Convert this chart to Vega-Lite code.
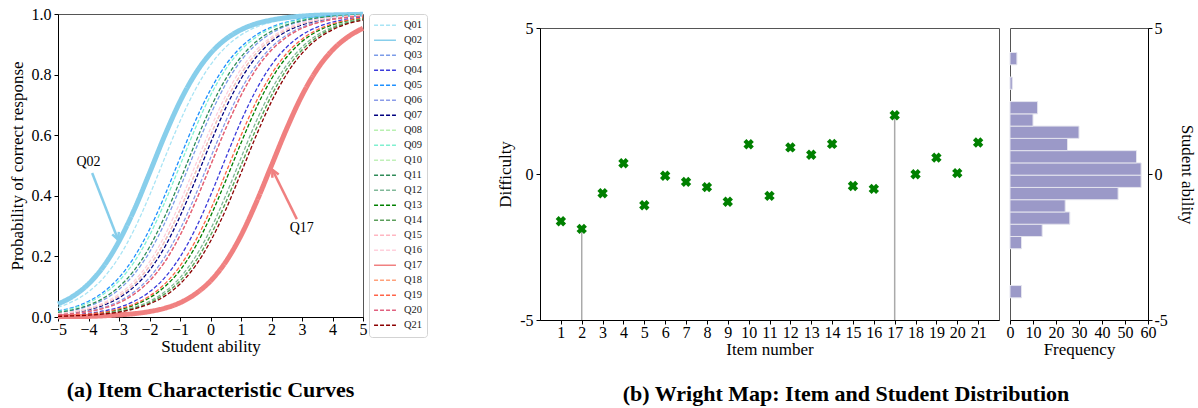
{
"$schema": "https://vega.github.io/schema/vega-lite/v6.json",
"background": "white",
"padding": {"left": 7, "top": 3, "right": 3, "bottom": 2},
"spacing": 68,
"resolve": {"legend": {"color": "independent", "strokeDash": "independent"}},
"config": {
  "font": "Liberation Serif",
  "view": {"stroke": "#555", "strokeWidth": 1},
  "axis": {"labelFont": "Liberation Serif", "titleFont": "Liberation Serif", "labelFontSize": 16, "titleFontSize": 17, "titleFontWeight": "normal", "labelColor": "#000", "titleColor": "#000", "domainColor": "#000", "tickColor": "#000", "domainWidth": 1, "tickWidth": 1, "tickSize": 4, "grid": false, "labelOverlap": false, "labelFlush": false, "labelSeparation": 0},
  "axisX": {"labelPadding": 0, "titlePadding": 1},
  "axisY": {"labelPadding": 3, "titlePadding": 5},
  "legend": {"orient": "right", "offset": -4, "padding": 4, "rowPadding": 0, "clipHeight": 14.4, "symbolType": "stroke", "symbolSize": 480, "symbolStrokeWidth": 1.5, "labelFont": "Liberation Serif", "labelFontSize": 10.5, "labelOffset": 7, "labelColor": "#222", "strokeColor": "#d3d3d3", "fillColor": "white", "cornerRadius": 3},
  "title": {"font": "Liberation Serif", "fontSize": 22, "fontWeight": "bold", "color": "#000"}
},
"datasets": {
  "curves": [
{"q":"Q01","t":-5,"p":0.032},{"q":"Q01","t":-4.5,"p":0.052},{"q":"Q01","t":-4,"p":0.083},{"q":"Q01","t":-3.5,"p":0.13},{"q":"Q01","t":-3,"p":0.198},{"q":"Q01","t":-2.5,"p":0.289},{"q":"Q01","t":-2,"p":0.401},{"q":"Q01","t":-1.5,"p":0.525},{"q":"Q01","t":-1,"p":0.646},{"q":"Q01","t":-0.5,"p":0.75},{"q":"Q01","t":0,"p":0.832},{"q":"Q01","t":0.5,"p":0.891},{"q":"Q01","t":1,"p":0.931},{"q":"Q01","t":1.5,"p":0.957},{"q":"Q01","t":2,"p":0.973},{"q":"Q01","t":2.5,"p":0.984},{"q":"Q01","t":3,"p":0.99},{"q":"Q01","t":3.5,"p":0.994},{"q":"Q01","t":4,"p":0.996},{"q":"Q01","t":4.5,"p":0.998},{"q":"Q01","t":5,"p":0.999},
{"q":"Q02","t":-5,"p":0.043},{"q":"Q02","t":-4.5,"p":0.069},{"q":"Q02","t":-4,"p":0.109},{"q":"Q02","t":-3.5,"p":0.168},{"q":"Q02","t":-3,"p":0.25},{"q":"Q02","t":-2.5,"p":0.354},{"q":"Q02","t":-2,"p":0.475},{"q":"Q02","t":-1.5,"p":0.599},{"q":"Q02","t":-1,"p":0.711},{"q":"Q02","t":-0.5,"p":0.802},{"q":"Q02","t":0,"p":0.87},{"q":"Q02","t":0.5,"p":0.917},{"q":"Q02","t":1,"p":0.948},{"q":"Q02","t":1.5,"p":0.968},{"q":"Q02","t":2,"p":0.98},{"q":"Q02","t":2.5,"p":0.988},{"q":"Q02","t":3,"p":0.993},{"q":"Q02","t":3.5,"p":0.996},{"q":"Q02","t":4,"p":0.997},{"q":"Q02","t":4.5,"p":0.998},{"q":"Q02","t":5,"p":0.999},
{"q":"Q03","t":-5,"p":0.013},{"q":"Q03","t":-4.5,"p":0.022},{"q":"Q03","t":-4,"p":0.036},{"q":"Q03","t":-3.5,"p":0.057},{"q":"Q03","t":-3,"p":0.091},{"q":"Q03","t":-2.5,"p":0.142},{"q":"Q03","t":-2,"p":0.214},{"q":"Q03","t":-1.5,"p":0.31},{"q":"Q03","t":-1,"p":0.426},{"q":"Q03","t":-0.5,"p":0.55},{"q":"Q03","t":0,"p":0.668},{"q":"Q03","t":0.5,"p":0.769},{"q":"Q03","t":1,"p":0.846},{"q":"Q03","t":1.5,"p":0.9},{"q":"Q03","t":2,"p":0.937},{"q":"Q03","t":2.5,"p":0.961},{"q":"Q03","t":3,"p":0.976},{"q":"Q03","t":3.5,"p":0.985},{"q":"Q03","t":4,"p":0.991},{"q":"Q03","t":4.5,"p":0.995},{"q":"Q03","t":5,"p":0.997},
{"q":"Q04","t":-5,"p":0.004},{"q":"Q04","t":-4.5,"p":0.007},{"q":"Q04","t":-4,"p":0.012},{"q":"Q04","t":-3.5,"p":0.02},{"q":"Q04","t":-3,"p":0.032},{"q":"Q04","t":-2.5,"p":0.052},{"q":"Q04","t":-2,"p":0.083},{"q":"Q04","t":-1.5,"p":0.13},{"q":"Q04","t":-1,"p":0.198},{"q":"Q04","t":-0.5,"p":0.289},{"q":"Q04","t":0,"p":0.401},{"q":"Q04","t":0.5,"p":0.525},{"q":"Q04","t":1,"p":0.646},{"q":"Q04","t":1.5,"p":0.75},{"q":"Q04","t":2,"p":0.832},{"q":"Q04","t":2.5,"p":0.891},{"q":"Q04","t":3,"p":0.931},{"q":"Q04","t":3.5,"p":0.957},{"q":"Q04","t":4,"p":0.973},{"q":"Q04","t":4.5,"p":0.984},{"q":"Q04","t":5,"p":0.99},
{"q":"Q05","t":-5,"p":0.02},{"q":"Q05","t":-4.5,"p":0.032},{"q":"Q05","t":-4,"p":0.052},{"q":"Q05","t":-3.5,"p":0.083},{"q":"Q05","t":-3,"p":0.13},{"q":"Q05","t":-2.5,"p":0.198},{"q":"Q05","t":-2,"p":0.289},{"q":"Q05","t":-1.5,"p":0.401},{"q":"Q05","t":-1,"p":0.525},{"q":"Q05","t":-0.5,"p":0.646},{"q":"Q05","t":0,"p":0.75},{"q":"Q05","t":0.5,"p":0.832},{"q":"Q05","t":1,"p":0.891},{"q":"Q05","t":1.5,"p":0.931},{"q":"Q05","t":2,"p":0.957},{"q":"Q05","t":2.5,"p":0.973},{"q":"Q05","t":3,"p":0.984},{"q":"Q05","t":3.5,"p":0.99},{"q":"Q05","t":4,"p":0.994},{"q":"Q05","t":4.5,"p":0.996},{"q":"Q05","t":5,"p":0.998},
{"q":"Q06","t":-5,"p":0.007},{"q":"Q06","t":-4.5,"p":0.012},{"q":"Q06","t":-4,"p":0.02},{"q":"Q06","t":-3.5,"p":0.032},{"q":"Q06","t":-3,"p":0.052},{"q":"Q06","t":-2.5,"p":0.083},{"q":"Q06","t":-2,"p":0.13},{"q":"Q06","t":-1.5,"p":0.198},{"q":"Q06","t":-1,"p":0.289},{"q":"Q06","t":-0.5,"p":0.401},{"q":"Q06","t":0,"p":0.525},{"q":"Q06","t":0.5,"p":0.646},{"q":"Q06","t":1,"p":0.75},{"q":"Q06","t":1.5,"p":0.832},{"q":"Q06","t":2,"p":0.891},{"q":"Q06","t":2.5,"p":0.931},{"q":"Q06","t":3,"p":0.957},{"q":"Q06","t":3.5,"p":0.973},{"q":"Q06","t":4,"p":0.984},{"q":"Q06","t":4.5,"p":0.99},{"q":"Q06","t":5,"p":0.994},
{"q":"Q07","t":-5,"p":0.009},{"q":"Q07","t":-4.5,"p":0.015},{"q":"Q07","t":-4,"p":0.024},{"q":"Q07","t":-3.5,"p":0.039},{"q":"Q07","t":-3,"p":0.063},{"q":"Q07","t":-2.5,"p":0.1},{"q":"Q07","t":-2,"p":0.154},{"q":"Q07","t":-1.5,"p":0.231},{"q":"Q07","t":-1,"p":0.332},{"q":"Q07","t":-0.5,"p":0.45},{"q":"Q07","t":0,"p":0.574},{"q":"Q07","t":0.5,"p":0.69},{"q":"Q07","t":1,"p":0.786},{"q":"Q07","t":1.5,"p":0.858},{"q":"Q07","t":2,"p":0.909},{"q":"Q07","t":2.5,"p":0.943},{"q":"Q07","t":3,"p":0.964},{"q":"Q07","t":3.5,"p":0.978},{"q":"Q07","t":4,"p":0.987},{"q":"Q07","t":4.5,"p":0.992},{"q":"Q07","t":5,"p":0.995},
{"q":"Q08","t":-5,"p":0.01},{"q":"Q08","t":-4.5,"p":0.016},{"q":"Q08","t":-4,"p":0.027},{"q":"Q08","t":-3.5,"p":0.043},{"q":"Q08","t":-3,"p":0.069},{"q":"Q08","t":-2.5,"p":0.109},{"q":"Q08","t":-2,"p":0.168},{"q":"Q08","t":-1.5,"p":0.25},{"q":"Q08","t":-1,"p":0.354},{"q":"Q08","t":-0.5,"p":0.475},{"q":"Q08","t":0,"p":0.599},{"q":"Q08","t":0.5,"p":0.711},{"q":"Q08","t":1,"p":0.802},{"q":"Q08","t":1.5,"p":0.87},{"q":"Q08","t":2,"p":0.917},{"q":"Q08","t":2.5,"p":0.948},{"q":"Q08","t":3,"p":0.968},{"q":"Q08","t":3.5,"p":0.98},{"q":"Q08","t":4,"p":0.988},{"q":"Q08","t":4.5,"p":0.993},{"q":"Q08","t":5,"p":0.996},
{"q":"Q09","t":-5,"p":0.018},{"q":"Q09","t":-4.5,"p":0.029},{"q":"Q09","t":-4,"p":0.047},{"q":"Q09","t":-3.5,"p":0.076},{"q":"Q09","t":-3,"p":0.119},{"q":"Q09","t":-2.5,"p":0.182},{"q":"Q09","t":-2,"p":0.269},{"q":"Q09","t":-1.5,"p":0.378},{"q":"Q09","t":-1,"p":0.5},{"q":"Q09","t":-0.5,"p":0.622},{"q":"Q09","t":0,"p":0.731},{"q":"Q09","t":0.5,"p":0.818},{"q":"Q09","t":1,"p":0.881},{"q":"Q09","t":1.5,"p":0.924},{"q":"Q09","t":2,"p":0.953},{"q":"Q09","t":2.5,"p":0.971},{"q":"Q09","t":3,"p":0.982},{"q":"Q09","t":3.5,"p":0.989},{"q":"Q09","t":4,"p":0.993},{"q":"Q09","t":4.5,"p":0.996},{"q":"Q09","t":5,"p":0.998},
{"q":"Q10","t":-5,"p":0.002},{"q":"Q10","t":-4.5,"p":0.004},{"q":"Q10","t":-4,"p":0.007},{"q":"Q10","t":-3.5,"p":0.011},{"q":"Q10","t":-3,"p":0.018},{"q":"Q10","t":-2.5,"p":0.029},{"q":"Q10","t":-2,"p":0.047},{"q":"Q10","t":-1.5,"p":0.076},{"q":"Q10","t":-1,"p":0.119},{"q":"Q10","t":-0.5,"p":0.182},{"q":"Q10","t":0,"p":0.269},{"q":"Q10","t":0.5,"p":0.378},{"q":"Q10","t":1,"p":0.5},{"q":"Q10","t":1.5,"p":0.622},{"q":"Q10","t":2,"p":0.731},{"q":"Q10","t":2.5,"p":0.818},{"q":"Q10","t":3,"p":0.881},{"q":"Q10","t":3.5,"p":0.924},{"q":"Q10","t":4,"p":0.953},{"q":"Q10","t":4.5,"p":0.971},{"q":"Q10","t":5,"p":0.982},
{"q":"Q11","t":-5,"p":0.015},{"q":"Q11","t":-4.5,"p":0.024},{"q":"Q11","t":-4,"p":0.039},{"q":"Q11","t":-3.5,"p":0.063},{"q":"Q11","t":-3,"p":0.1},{"q":"Q11","t":-2.5,"p":0.154},{"q":"Q11","t":-2,"p":0.231},{"q":"Q11","t":-1.5,"p":0.332},{"q":"Q11","t":-1,"p":0.45},{"q":"Q11","t":-0.5,"p":0.574},{"q":"Q11","t":0,"p":0.69},{"q":"Q11","t":0.5,"p":0.786},{"q":"Q11","t":1,"p":0.858},{"q":"Q11","t":1.5,"p":0.909},{"q":"Q11","t":2,"p":0.943},{"q":"Q11","t":2.5,"p":0.964},{"q":"Q11","t":3,"p":0.978},{"q":"Q11","t":3.5,"p":0.987},{"q":"Q11","t":4,"p":0.992},{"q":"Q11","t":4.5,"p":0.995},{"q":"Q11","t":5,"p":0.997},
{"q":"Q12","t":-5,"p":0.003},{"q":"Q12","t":-4.5,"p":0.004},{"q":"Q12","t":-4,"p":0.007},{"q":"Q12","t":-3.5,"p":0.012},{"q":"Q12","t":-3,"p":0.02},{"q":"Q12","t":-2.5,"p":0.032},{"q":"Q12","t":-2,"p":0.052},{"q":"Q12","t":-1.5,"p":0.083},{"q":"Q12","t":-1,"p":0.13},{"q":"Q12","t":-0.5,"p":0.198},{"q":"Q12","t":0,"p":0.289},{"q":"Q12","t":0.5,"p":0.401},{"q":"Q12","t":1,"p":0.525},{"q":"Q12","t":1.5,"p":0.646},{"q":"Q12","t":2,"p":0.75},{"q":"Q12","t":2.5,"p":0.832},{"q":"Q12","t":3,"p":0.891},{"q":"Q12","t":3.5,"p":0.931},{"q":"Q12","t":4,"p":0.957},{"q":"Q12","t":4.5,"p":0.973},{"q":"Q12","t":5,"p":0.984},
{"q":"Q13","t":-5,"p":0.003},{"q":"Q13","t":-4.5,"p":0.005},{"q":"Q13","t":-4,"p":0.009},{"q":"Q13","t":-3.5,"p":0.015},{"q":"Q13","t":-3,"p":0.024},{"q":"Q13","t":-2.5,"p":0.039},{"q":"Q13","t":-2,"p":0.063},{"q":"Q13","t":-1.5,"p":0.1},{"q":"Q13","t":-1,"p":0.154},{"q":"Q13","t":-0.5,"p":0.231},{"q":"Q13","t":0,"p":0.332},{"q":"Q13","t":0.5,"p":0.45},{"q":"Q13","t":1,"p":0.574},{"q":"Q13","t":1.5,"p":0.69},{"q":"Q13","t":2,"p":0.786},{"q":"Q13","t":2.5,"p":0.858},{"q":"Q13","t":3,"p":0.909},{"q":"Q13","t":3.5,"p":0.943},{"q":"Q13","t":4,"p":0.964},{"q":"Q13","t":4.5,"p":0.978},{"q":"Q13","t":5,"p":0.987},
{"q":"Q14","t":-5,"p":0.002},{"q":"Q14","t":-4.5,"p":0.004},{"q":"Q14","t":-4,"p":0.007},{"q":"Q14","t":-3.5,"p":0.011},{"q":"Q14","t":-3,"p":0.018},{"q":"Q14","t":-2.5,"p":0.029},{"q":"Q14","t":-2,"p":0.047},{"q":"Q14","t":-1.5,"p":0.076},{"q":"Q14","t":-1,"p":0.119},{"q":"Q14","t":-0.5,"p":0.182},{"q":"Q14","t":0,"p":0.269},{"q":"Q14","t":0.5,"p":0.378},{"q":"Q14","t":1,"p":0.5},{"q":"Q14","t":1.5,"p":0.622},{"q":"Q14","t":2,"p":0.731},{"q":"Q14","t":2.5,"p":0.818},{"q":"Q14","t":3,"p":0.881},{"q":"Q14","t":3.5,"p":0.924},{"q":"Q14","t":4,"p":0.953},{"q":"Q14","t":4.5,"p":0.971},{"q":"Q14","t":5,"p":0.982},
{"q":"Q15","t":-5,"p":0.01},{"q":"Q15","t":-4.5,"p":0.016},{"q":"Q15","t":-4,"p":0.027},{"q":"Q15","t":-3.5,"p":0.043},{"q":"Q15","t":-3,"p":0.069},{"q":"Q15","t":-2.5,"p":0.109},{"q":"Q15","t":-2,"p":0.168},{"q":"Q15","t":-1.5,"p":0.25},{"q":"Q15","t":-1,"p":0.354},{"q":"Q15","t":-0.5,"p":0.475},{"q":"Q15","t":0,"p":0.599},{"q":"Q15","t":0.5,"p":0.711},{"q":"Q15","t":1,"p":0.802},{"q":"Q15","t":1.5,"p":0.87},{"q":"Q15","t":2,"p":0.917},{"q":"Q15","t":2.5,"p":0.948},{"q":"Q15","t":3,"p":0.968},{"q":"Q15","t":3.5,"p":0.98},{"q":"Q15","t":4,"p":0.988},{"q":"Q15","t":4.5,"p":0.993},{"q":"Q15","t":5,"p":0.996},
{"q":"Q16","t":-5,"p":0.011},{"q":"Q16","t":-4.5,"p":0.018},{"q":"Q16","t":-4,"p":0.029},{"q":"Q16","t":-3.5,"p":0.047},{"q":"Q16","t":-3,"p":0.076},{"q":"Q16","t":-2.5,"p":0.119},{"q":"Q16","t":-2,"p":0.182},{"q":"Q16","t":-1.5,"p":0.269},{"q":"Q16","t":-1,"p":0.378},{"q":"Q16","t":-0.5,"p":0.5},{"q":"Q16","t":0,"p":0.622},{"q":"Q16","t":0.5,"p":0.731},{"q":"Q16","t":1,"p":0.818},{"q":"Q16","t":1.5,"p":0.881},{"q":"Q16","t":2,"p":0.924},{"q":"Q16","t":2.5,"p":0.953},{"q":"Q16","t":3,"p":0.971},{"q":"Q16","t":3.5,"p":0.982},{"q":"Q16","t":4,"p":0.989},{"q":"Q16","t":4.5,"p":0.993},{"q":"Q16","t":5,"p":0.996},
{"q":"Q17","t":-5,"p":0.001},{"q":"Q17","t":-4.5,"p":0.002},{"q":"Q17","t":-4,"p":0.002},{"q":"Q17","t":-3.5,"p":0.004},{"q":"Q17","t":-3,"p":0.007},{"q":"Q17","t":-2.5,"p":0.011},{"q":"Q17","t":-2,"p":0.018},{"q":"Q17","t":-1.5,"p":0.029},{"q":"Q17","t":-1,"p":0.047},{"q":"Q17","t":-0.5,"p":0.076},{"q":"Q17","t":0,"p":0.119},{"q":"Q17","t":0.5,"p":0.182},{"q":"Q17","t":1,"p":0.269},{"q":"Q17","t":1.5,"p":0.378},{"q":"Q17","t":2,"p":0.5},{"q":"Q17","t":2.5,"p":0.622},{"q":"Q17","t":3,"p":0.731},{"q":"Q17","t":3.5,"p":0.818},{"q":"Q17","t":4,"p":0.881},{"q":"Q17","t":4.5,"p":0.924},{"q":"Q17","t":5,"p":0.953},
{"q":"Q18","t":-5,"p":0.007},{"q":"Q18","t":-4.5,"p":0.011},{"q":"Q18","t":-4,"p":0.018},{"q":"Q18","t":-3.5,"p":0.029},{"q":"Q18","t":-3,"p":0.047},{"q":"Q18","t":-2.5,"p":0.076},{"q":"Q18","t":-2,"p":0.119},{"q":"Q18","t":-1.5,"p":0.182},{"q":"Q18","t":-1,"p":0.269},{"q":"Q18","t":-0.5,"p":0.378},{"q":"Q18","t":0,"p":0.5},{"q":"Q18","t":0.5,"p":0.622},{"q":"Q18","t":1,"p":0.731},{"q":"Q18","t":1.5,"p":0.818},{"q":"Q18","t":2,"p":0.881},{"q":"Q18","t":2.5,"p":0.924},{"q":"Q18","t":3,"p":0.953},{"q":"Q18","t":3.5,"p":0.971},{"q":"Q18","t":4,"p":0.982},{"q":"Q18","t":4.5,"p":0.989},{"q":"Q18","t":5,"p":0.993},
{"q":"Q19","t":-5,"p":0.004},{"q":"Q19","t":-4.5,"p":0.006},{"q":"Q19","t":-4,"p":0.01},{"q":"Q19","t":-3.5,"p":0.016},{"q":"Q19","t":-3,"p":0.027},{"q":"Q19","t":-2.5,"p":0.043},{"q":"Q19","t":-2,"p":0.069},{"q":"Q19","t":-1.5,"p":0.109},{"q":"Q19","t":-1,"p":0.168},{"q":"Q19","t":-0.5,"p":0.25},{"q":"Q19","t":0,"p":0.354},{"q":"Q19","t":0.5,"p":0.475},{"q":"Q19","t":1,"p":0.599},{"q":"Q19","t":1.5,"p":0.711},{"q":"Q19","t":2,"p":0.802},{"q":"Q19","t":2.5,"p":0.87},{"q":"Q19","t":3,"p":0.917},{"q":"Q19","t":3.5,"p":0.948},{"q":"Q19","t":4,"p":0.968},{"q":"Q19","t":4.5,"p":0.98},{"q":"Q19","t":5,"p":0.988},
{"q":"Q20","t":-5,"p":0.007},{"q":"Q20","t":-4.5,"p":0.011},{"q":"Q20","t":-4,"p":0.018},{"q":"Q20","t":-3.5,"p":0.029},{"q":"Q20","t":-3,"p":0.047},{"q":"Q20","t":-2.5,"p":0.076},{"q":"Q20","t":-2,"p":0.119},{"q":"Q20","t":-1.5,"p":0.182},{"q":"Q20","t":-1,"p":0.269},{"q":"Q20","t":-0.5,"p":0.378},{"q":"Q20","t":0,"p":0.5},{"q":"Q20","t":0.5,"p":0.622},{"q":"Q20","t":1,"p":0.731},{"q":"Q20","t":1.5,"p":0.818},{"q":"Q20","t":2,"p":0.881},{"q":"Q20","t":2.5,"p":0.924},{"q":"Q20","t":3,"p":0.953},{"q":"Q20","t":3.5,"p":0.971},{"q":"Q20","t":4,"p":0.982},{"q":"Q20","t":4.5,"p":0.989},{"q":"Q20","t":5,"p":0.993},
{"q":"Q21","t":-5,"p":0.002},{"q":"Q21","t":-4.5,"p":0.004},{"q":"Q21","t":-4,"p":0.006},{"q":"Q21","t":-3.5,"p":0.01},{"q":"Q21","t":-3,"p":0.016},{"q":"Q21","t":-2.5,"p":0.027},{"q":"Q21","t":-2,"p":0.043},{"q":"Q21","t":-1.5,"p":0.069},{"q":"Q21","t":-1,"p":0.109},{"q":"Q21","t":-0.5,"p":0.168},{"q":"Q21","t":0,"p":0.25},{"q":"Q21","t":0.5,"p":0.354},{"q":"Q21","t":1,"p":0.475},{"q":"Q21","t":1.5,"p":0.599},{"q":"Q21","t":2,"p":0.711},{"q":"Q21","t":2.5,"p":0.802},{"q":"Q21","t":3,"p":0.87},{"q":"Q21","t":3.5,"p":0.917},{"q":"Q21","t":4,"p":0.948},{"q":"Q21","t":4.5,"p":0.968},{"q":"Q21","t":5,"p":0.98}
  ],
  "arrows": [
    {"q":"Q02","t":-3.88,"p":0.475,"t2":-3.03,"p2":0.255},
    {"q":"Q17","t":2.83,"p":0.323,"t2":2.03,"p2":0.486}
  ],
  "heads": [
    {"q":"Q02","t":-3.03,"p":0.255},
    {"q":"Q17","t":2.03,"p":0.486}
  ],
  "labels": [
    {"q":"Q02","t":-4.0,"p":0.512},
    {"q":"Q17","t":2.99,"p":0.294}
  ],
  "spacer": [{"s": 0}],
  "items": [
    {"item":1,"b":-1.62},{"item":2,"b":-1.88},{"item":3,"b":-0.66},{"item":4,"b":0.37},{"item":5,"b":-1.07},{"item":6,"b":-0.06},{"item":7,"b":-0.27},{"item":8,"b":-0.45},{"item":9,"b":-0.95},{"item":10,"b":1.02},{"item":11,"b":-0.75},{"item":12,"b":0.91},{"item":13,"b":0.66},{"item":14,"b":1.03},{"item":15,"b":-0.41},{"item":16,"b":-0.51},{"item":17,"b":2.01},{"item":18,"b":-0.01},{"item":19,"b":0.56},{"item":20,"b":0.03},{"item":21,"b":1.08}
  ],
  "bins": [
    {"lo":-4.24,"hi":-3.82,"n":5},{"lo":-2.56,"hi":-2.14,"n":5},{"lo":-2.14,"hi":-1.72,"n":14},{"lo":-1.72,"hi":-1.3,"n":26},{"lo":-1.3,"hi":-0.88,"n":24},{"lo":-0.88,"hi":-0.46,"n":47},{"lo":-0.46,"hi":-0.04,"n":57},{"lo":-0.04,"hi":0.38,"n":57},{"lo":0.38,"hi":0.8,"n":55},{"lo":0.8,"hi":1.22,"n":25},{"lo":1.22,"hi":1.64,"n":30},{"lo":1.64,"hi":2.06,"n":10},{"lo":2.06,"hi":2.48,"n":12},{"lo":2.9,"hi":3.32,"n":1},{"lo":3.74,"hi":4.16,"n":3}
  ]
},
"hconcat": [
  {
    "width": 305,
    "height": 303,
    "title": {"text": "(a) Item Characteristic Curves", "orient": "bottom", "anchor": "middle", "offset": 26},
    "encoding": {
      "x": {"field": "t", "type": "quantitative", "scale": {"domain": [-5, 5], "nice": false, "zero": false}, "axis": {"values": [-5,-4,-3,-2,-1,0,1,2,3,4,5], "labelOverlap": false, "title": "Student ability"}},
      "y": {"field": "p", "type": "quantitative", "scale": {"domain": [0, 1], "nice": false}, "axis": {"values": [0,0.2,0.4,0.6,0.8,1], "labelOverlap": false, "format": ".1f", "title": "Probability of correct response"}}
    },
    "layer": [
      {
        "data": {"name": "curves"},
        "mark": {"type": "line", "interpolate": "monotone"},
        "encoding": {
          "color": {"field": "q", "type": "nominal", "legend": {"title": null},
            "scale": {"domain": ["Q01","Q02","Q03","Q04","Q05","Q06","Q07","Q08","Q09","Q10","Q11","Q12","Q13","Q14","Q15","Q16","Q17","Q18","Q19","Q20","Q21"],
                      "range": ["#a8e4f5","#87ceeb","#7b9be8","#3b3bdb","#1e90ff","#8a9be8","#000080","#b8f0b0","#80f0d0","#c0f0b8","#2e8b57","#80b898","#008000","#5a9e5a","#ffb6c1","#ffd0dc","#f08080","#ffa07a","#ff6347","#e0607e","#8b0000"]}},
          "strokeDash": {"field": "q", "type": "nominal", "legend": {"title": null},
            "scale": {"domain": ["Q01","Q02","Q03","Q04","Q05","Q06","Q07","Q08","Q09","Q10","Q11","Q12","Q13","Q14","Q15","Q16","Q17","Q18","Q19","Q20","Q21"],
                      "range": [[4,2],[1,0],[4,2],[4,2],[4,2],[4,2],[4,2],[4,2],[4,2],[4,2],[4,2],[4,2],[4,2],[4,2],[4,2],[4,2],[1,0],[4,2],[4,2],[4,2],[4,2]]}},
          "strokeWidth": {"condition": {"test": "datum.q == 'Q02' || datum.q == 'Q17'", "value": 5}, "value": 1.3}
        }
      },
      {
        "data": {"name": "arrows"},
        "transform": [{"filter": "datum.q == 'Q02'"}],
        "mark": {"type": "rule", "color": "#87ceeb", "strokeWidth": 2.5},
        "encoding": {"x2": {"field": "t2"}, "y2": {"field": "p2"}}
      },
      {
        "data": {"name": "heads"},
        "transform": [{"filter": "datum.q == 'Q02'"}],
        "mark": {"type": "point", "shape": "M-0.5,1L0,0L0.5,1", "filled": false, "color": "#87ceeb", "strokeWidth": 2.5, "size": 200, "angle": 159, "opacity": 1}
      },
      {
        "data": {"name": "arrows"},
        "transform": [{"filter": "datum.q == 'Q17'"}],
        "mark": {"type": "rule", "color": "#f08080", "strokeWidth": 2.5},
        "encoding": {"x2": {"field": "t2"}, "y2": {"field": "p2"}}
      },
      {
        "data": {"name": "heads"},
        "transform": [{"filter": "datum.q == 'Q17'"}],
        "mark": {"type": "point", "shape": "M-0.5,1L0,0L0.5,1", "filled": false, "color": "#f08080", "strokeWidth": 2.5, "size": 200, "angle": 334, "opacity": 1}
      },
      {
        "data": {"name": "labels"},
        "mark": {"type": "text", "fontSize": 14, "font": "Liberation Serif", "color": "#000"},
        "encoding": {"text": {"field": "q"}}
      }
    ]
  },
  {
    "spacing": 0,
    "vconcat": [
      {
        "width": 10,
        "height": 3,
        "data": {"name": "spacer"},
        "mark": {"type": "point", "opacity": 0},
        "encoding": {},
        "view": {"stroke": null}
      },
      {
        "spacing": 5,
        "title": {"text": "(b) Wright Map: Item and Student Distribution", "orient": "bottom", "anchor": "middle", "offset": 26},
        "hconcat": [
          {
            "width": 459,
            "height": 292,
            "data": {"name": "items"},
            "encoding": {
              "x": {"field": "item", "type": "quantitative", "scale": {"domain": [0, 22], "nice": false, "zero": false}, "axis": {"values": [1,2,3,4,5,6,7,8,9,10,11,12,13,14,15,16,17,18,19,20,21], "labelOverlap": false, "title": "Item number"}},
              "y": {"field": "b", "type": "quantitative", "scale": {"domain": [-5, 5], "nice": false, "zero": false}, "axis": {"values": [-5, 0, 5], "labelOverlap": false, "labelExpr": "'' + datum.value", "title": "Difficulty"}}
            },
            "layer": [
              {
                "transform": [{"filter": "datum.item == 2 || datum.item == 17"}],
                "mark": {"type": "rule", "color": "#aaaaaa", "strokeWidth": 1.5},
                "encoding": {"y2": {"datum": -5}}
              },
              {
                "mark": {"type": "point", "shape": "cross", "angle": 45, "filled": true, "color": "#008000", "size": 110, "opacity": 1}
              }
            ]
          },
          {
            "width": 138,
            "height": 292,
            "data": {"name": "bins"},
            "mark": {"type": "bar", "color": "#9b99c8", "stroke": "#e4e4ee", "strokeWidth": 1},
            "encoding": {
              "x": {"field": "n", "type": "quantitative", "scale": {"domain": [0, 60], "nice": false}, "axis": {"values": [0,10,20,30,40,50,60], "labelOverlap": false, "title": "Frequency"}},
              "x2": {"datum": 0},
              "y": {"field": "lo", "type": "quantitative", "scale": {"domain": [-5, 5], "nice": false, "zero": false}, "axis": {"orient": "right", "values": [-5, 0, 5], "labelOverlap": false, "labelExpr": "'' + datum.value", "title": "Student ability", "titlePadding": 10, "labelPadding": 2}},
              "y2": {"field": "hi"}
            }
          }
        ]
      }
    ]
  }
]
}
